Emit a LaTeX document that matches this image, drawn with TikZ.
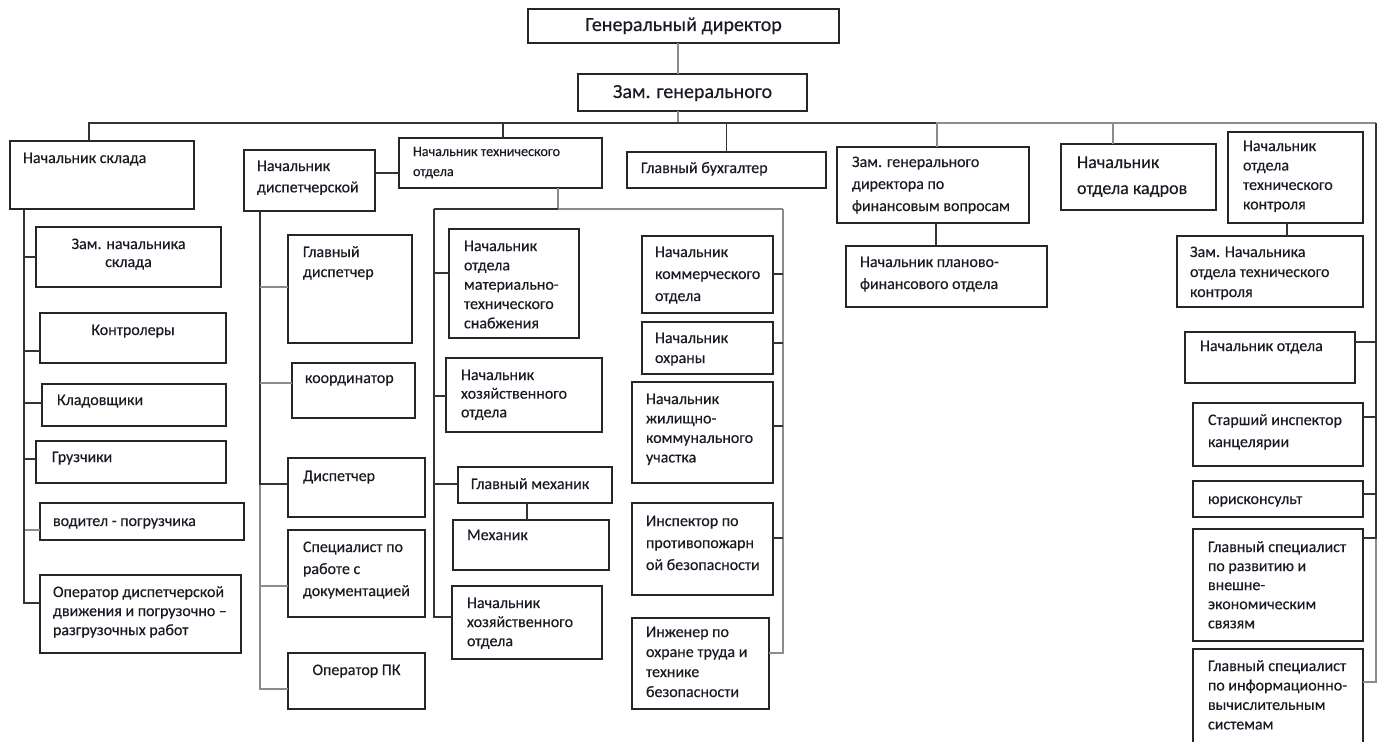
\documentclass[tikz,border=0pt]{standalone}
\usepackage{fontspec}
\setmainfont{Carlito}[FakeBold=0.3]
\usetikzlibrary{calc}
\definecolor{ink}{HTML}{1A1A24}
\definecolor{edge}{HTML}{262626}
\definecolor{dk}{HTML}{333333}
\definecolor{lt}{HTML}{8C8C8C}
\newdimen\px \px=0.75pt
\tikzset{
  box/.style={draw=edge, line width=1.4pt, inner sep=0pt, outer sep=0pt, text=ink,
    font=\fontsize{12}{15}\selectfont},
  conn/.style={draw=dk, line width=1.3pt},
  connl/.style={draw=lt, line width=1.3pt}
}
% [font/align] name x1 y1 x2 y2 leftpad firstbaseline text
\newcommand\bx[9][]{%
 \pgfmathsetmacro\bw{(#5-#3)*0.75}%
 \pgfmathsetmacro\bh{(#6-#4)*0.75}%
 \node[box,minimum width=\bw pt,minimum height=\bh pt,anchor=north west] (#2) at (#3,#4)
 {\parbox[c][\bh pt][t]{\bw pt}{\raggedright\leftskip=#7\px\relax #1\vspace*{\dimexpr#8\px-\ht\strutbox\relax}\strut #9\par}};
}
\begin{document}
\begin{tikzpicture}[x=0.75pt,y=-0.75pt]
\fill[white] (0,0) rectangle (1377,742);
\useasboundingbox (0,0) rectangle (1377,742);

% top
\bx[\fontsize{15}{18}\selectfont\centering]{gd}{528}{9}{839}{43}{0}{22}{Генеральный директор}
\bx[\fontsize{15}{18}\selectfont\centering]{zg}{578}{74}{807}{111}{0}{24}{Зам. генерального}

% second row
\bx{sklad}{10}{141}{194}{209}{13}{22}{Начальник склада}
\bx[\fontsize{12}{16}\selectfont]{disp}{244}{150}{375}{211}{13}{21}{Начальник\\диспетчерской}
\bx[\fontsize{10.6}{15}\selectfont]{tech}{399}{138}{602}{188}{14}{18}{Начальник технического\\отдела}
\bx{buh}{627}{152}{826}{188}{14}{21}{Главный бухгалтер}
\bx[\fontsize{12}{16.5}\selectfont]{fin}{837}{147}{1029}{223}{15}{20}{Зам. генерального\\директора по\\финансовым вопросам}
\bx[\fontsize{12}{16.5}\selectfont]{plan}{846}{246}{1047}{307}{14}{21}{Начальник планово-\\финансового отдела}
\bx[\fontsize{13.5}{19.5}\selectfont]{kadr}{1061}{144}{1216}{210}{16}{24}{Начальник\\отдела кадров}
\bx[\fontsize{12}{14.6}\selectfont]{tk}{1228}{132}{1363}{223}{15}{19}{Начальник\\отдела\\технического\\контроля}
\bx{ztk}{1177}{236}{1363}{307}{13}{21}{Зам. Начальника\\отдела технического\\контроля}

% right column
\bx{nach}{1185}{332}{1355}{383}{15}{19}{Начальник отдела}
\bx[\fontsize{12}{16.5}\selectfont]{sins}{1193}{403}{1363}{466}{15}{22}{Старший инспектор\\канцелярии}
\bx{jur}{1193}{481}{1363}{517}{15}{23}{юрисконсульт}
\bx[\fontsize{12}{14.3}\selectfont]{gsr}{1193}{529}{1363}{641}{15}{23}{Главный специалист\\по развитию и\\внешне-\\экономическим\\связям}
\bx[\fontsize{12}{14.6}\selectfont]{gsi}{1193}{649}{1363}{748}{15}{22}{Главный специалист\\по информационно-\\вычислительным\\системам}

% warehouse column
\bx[\fontsize{12}{13.5}\selectfont\centering]{zsk}{36}{227}{221}{287}{0}{22}{Зам. начальника\\склада}
\bx[\centering]{ktrl}{40}{313}{226}{363}{0}{22}{Контролеры}
\bx{klad}{42}{384}{226}{426}{15}{21}{Кладовщики}
\bx{gruz}{36}{441}{226}{483}{16}{21}{Грузчики}
\bx{vod}{40}{503}{244}{540}{13}{23}{водител - погрузчика}
\bx[\fontsize{12}{14.3}\selectfont]{oper}{40}{575}{241}{653}{13}{22}{Оператор диспетчерской\\движения и погрузочно –\\разгрузочных работ}

% dispatch column
\bx{gdisp}{288}{235}{412}{343}{15}{22}{Главный\\диспетчер}
\bx{koord}{292}{363}{415}{418}{13}{20}{координатор}
\bx{dsp}{288}{458}{425}{517}{15}{23}{Диспетчер}
\bx[\fontsize{12}{16.5}\selectfont]{spec}{288}{530}{425}{617}{15}{22}{Специалист по\\работе с\\документацией}
\bx[\centering]{opk}{288}{653}{425}{709}{0}{22}{Оператор ПК}

% technical department, left
\bx[\fontsize{12}{14.5}\selectfont]{mts}{449}{229}{579}{338}{15}{22}{Начальник\\отдела\\материально-\\технического\\снабжения}
\bx[\fontsize{12}{14}\selectfont]{hozA}{446}{358}{602}{432}{15}{22}{Начальник\\хозяйственного\\отдела}
\bx{gmeh}{458}{467}{612}{503}{13}{22}{Главный механик}
\bx{meh}{453}{520}{609}{570}{14}{20}{Механик}
\bx[\fontsize{12}{14.3}\selectfont]{hozB}{452}{586}{602}{659}{15}{22}{Начальник\\хозяйственного\\отдела}

% technical department, right
\bx[\fontsize{12}{16.5}\selectfont]{kom}{642}{236}{773}{313}{13}{21}{Начальник\\коммерческого\\отдела}
\bx{ohr}{642}{322}{773}{374}{13}{21}{Начальник\\охраны}
\bx[\fontsize{12}{14.6}\selectfont]{jku}{632}{382}{773}{483}{14}{22}{Начальник\\жилищно-\\коммунального\\участка}
\bx[\fontsize{12}{16.5}\selectfont]{insp}{632}{503}{773}{595}{14}{23}{Инспектор по\\противопожарн\\ой безопасности}
\bx{inzh}{632}{618}{769}{709}{14}{19}{Инженер по\\охране труда и\\технике\\безопасности}

% bus coordinates
\coordinate (bus) at (678,123);
\coordinate (bR) at (1376,123);
\coordinate (tb) at (558,209);
\coordinate (tL) at (434,209);
\coordinate (tR) at (783,209);

% top connectors
\draw[connl] ($(gd.south west)+(150,0)$) -- ($(zg.north west)+(100,0)$);
\draw[connl] ($(zg.south west)+(100,0)$) -- (bus);
\draw[conn] ($(sklad.north west)+(79,0)$) |- (bus);
\draw[conn] ($(tech.north west)+(104,0)$) |- (bus);
\draw[conn] (buh.north) |- (bus);
\draw[conn] (bus) -| ($(fin.north west)+(100,0)$);
\draw[connl] ($(fin.north west)+(100,0)$) |- (bR);
\draw[connl] ($(kadr.north west)+(52,0)$) |- (bR);
\draw[connl] (bR) |- ($(gsi.north east)+(0,33)$);
\draw[conn] ($(fin.south west)+(99,0)$) -- ($(plan.north west)+(90,0)$);
\draw[conn] ($(tk.south west)+(59,0)$) -- ($(ztk.north west)+(110,0)$);
\draw[conn] ($(disp.north east)+(0,23)$) -- ($(tech.north west)+(0,35)$);

% right column stubs
\draw[conn] ($(nach.north east)+(0,10)$) -| (bR);
\draw[conn] ($(sins.north east)+(0,14)$) -| (bR);
\draw[conn] ($(jur.north east)+(0,13)$) -| (bR);
\draw[conn] ($(gsr.north east)+(0,9)$) -| (bR);

% warehouse stubs
\draw[connl] ($(vod.north west)+(0,27)$) -| ($(sklad.south west)+(14,0)$);
\draw[conn] ($(oper.north west)+(0,28)$) -| ($(sklad.south west)+(14,0)$);
\draw[conn] ($(gruz.north west)+(0,18)$) -| ($(sklad.south west)+(14,0)$);
\draw[conn] ($(klad.north west)+(0,19)$) -| ($(sklad.south west)+(14,0)$);
\draw[conn] ($(ktrl.north west)+(0,38)$) -| ($(sklad.south west)+(14,0)$);
\draw[conn] ($(zsk.north west)+(0,30)$) -| ($(sklad.south west)+(14,0)$);

% dispatch stubs
\draw[connl] ($(opk.north west)+(0,36)$) -| ($(disp.south west)+(16,0)$);
\draw[connl] ($(spec.north west)+(0,56)$) -| ($(disp.south west)+(16,0)$);
\draw[conn] ($(dsp.north west)+(0,26)$) -| ($(disp.south west)+(16,0)$);
\draw[connl] ($(koord.north west)+(0,20)$) -- ($(koord.north west)+(-32,20)$);
\draw[connl] ($(gdisp.north west)+(0,52)$) -- ($(gdisp.north west)+(-28,52)$);

% technical department bus
\draw[connl] ($(tech.south west)+(159,0)$) |- (tR);
\draw[conn] (tb) -- (tL);
\draw[conn] ($(hozB.north west)+(0,31)$) -| (tL);
\draw[conn] ($(gmeh.north west)+(0,17)$) -| (tL);
\draw[conn] ($(hozA.north west)+(0,38)$) -| (tL);
\draw[conn] ($(mts.north west)+(0,44)$) -| (tL);
\draw[conn] ($(gmeh.south west)+(69,0)$) -- ($(meh.north west)+(74,0)$);
\draw[connl] ($(inzh.north east)+(0,35)$) -| (tR);
\draw[conn] ($(insp.north east)+(0,35)$) -- ($(insp.north east)+(10,35)$);
\draw[conn] ($(jku.north east)+(0,44)$) -- ($(jku.north east)+(10,44)$);
\draw[conn] ($(ohr.north east)+(0,21)$) -- ($(ohr.north east)+(10,21)$);
\draw[conn] ($(kom.north east)+(0,38)$) -- ($(kom.north east)+(10,38)$);
\end{tikzpicture}
\end{document}
